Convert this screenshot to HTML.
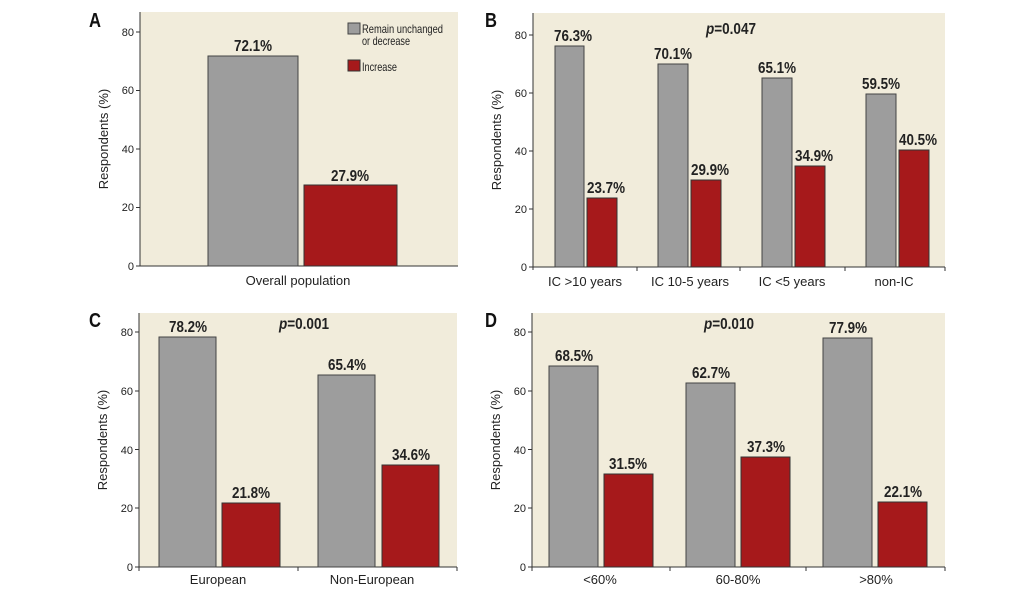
<!DOCTYPE html>
<html><head><meta charset="utf-8"><style>
body{margin:0;background:#fff}
svg{display:block}
.v{font-family:"Liberation Sans",sans-serif;font-weight:bold;font-size:16px;fill:#222;text-anchor:middle}
.t{font-family:"Liberation Sans",sans-serif;font-size:11px;fill:#222;text-anchor:end}
.c{font-family:"Liberation Sans",sans-serif;font-size:13px;fill:#222;text-anchor:middle}
.y{font-family:"Liberation Sans",sans-serif;font-size:13px;fill:#222;text-anchor:middle}
.L{font-family:"Liberation Sans",sans-serif;font-weight:bold;font-size:20px;fill:#111}
.g{fill:#9d9d9d;stroke:#444;stroke-width:1}
.r{fill:#a6191b;stroke:#333;stroke-width:1}
.lg{font-family:"Liberation Sans",sans-serif;font-size:12px;fill:#222}
</style></head><body>
<svg width="1033" height="591" viewBox="0 0 1033 591">
<!-- A -->
<rect x="140" y="12" width="318" height="254" fill="#f1ecdb"/>
<text class="L" x="89" y="27" textLength="12" lengthAdjust="spacingAndGlyphs">A</text>
<g stroke="#333"><line x1="140" y1="12" x2="140" y2="266"/><line x1="140" y1="266" x2="458" y2="266"/>
<line x1="136" y1="266" x2="140" y2="266"/><line x1="136" y1="207.5" x2="140" y2="207.5"/><line x1="136" y1="149" x2="140" y2="149"/><line x1="136" y1="90.5" x2="140" y2="90.5"/><line x1="136" y1="32" x2="140" y2="32"/></g>
<text class="t" x="134" y="270">0</text><text class="t" x="134" y="211">20</text><text class="t" x="134" y="153">40</text><text class="t" x="134" y="94">60</text><text class="t" x="134" y="36">80</text>
<text class="y" transform="translate(108,139) rotate(-90)">Respondents (%)</text>
<rect class="g" x="208" y="56" width="90" height="210"/><rect class="r" x="304" y="185" width="93" height="81"/>
<text class="v" x="253" y="51" textLength="38" lengthAdjust="spacingAndGlyphs">72.1%</text><text class="v" x="350" y="181" textLength="38" lengthAdjust="spacingAndGlyphs">27.9%</text>
<text class="c" x="298" y="285">Overall population</text>
<rect class="g" x="348" y="23" width="12" height="11"/><text class="lg" x="362" y="33" textLength="81" lengthAdjust="spacingAndGlyphs">Remain unchanged</text><text class="lg" x="362" y="45" textLength="48" lengthAdjust="spacingAndGlyphs">or decrease</text>
<rect class="r" x="348" y="60" width="12" height="11"/><text class="lg" x="362" y="71" textLength="35" lengthAdjust="spacingAndGlyphs">Increase</text>
<!-- B -->
<rect x="533" y="13" width="412" height="254" fill="#f1ecdb"/>
<text class="L" x="485" y="27" textLength="12" lengthAdjust="spacingAndGlyphs">B</text>
<g stroke="#333"><line x1="533" y1="13" x2="533" y2="270"/><line x1="533" y1="267" x2="945" y2="267"/>
<line x1="529" y1="267" x2="533" y2="267"/><line x1="529" y1="209" x2="533" y2="209"/><line x1="529" y1="151" x2="533" y2="151"/><line x1="529" y1="93" x2="533" y2="93"/><line x1="529" y1="35" x2="533" y2="35"/>
<line x1="637" y1="267" x2="637" y2="271"/><line x1="740" y1="267" x2="740" y2="271"/><line x1="845" y1="267" x2="845" y2="271"/><line x1="945" y1="267" x2="945" y2="271"/></g>
<text class="t" x="527" y="271">0</text><text class="t" x="527" y="213">20</text><text class="t" x="527" y="155">40</text><text class="t" x="527" y="97">60</text><text class="t" x="527" y="39">80</text>
<text class="y" transform="translate(501,140) rotate(-90)">Respondents (%)</text>
<rect class="g" x="555" y="46" width="29" height="221"/><rect class="r" x="587" y="198" width="30" height="69"/>
<rect class="g" x="658" y="64" width="30" height="203"/><rect class="r" x="691" y="180" width="30" height="87"/>
<rect class="g" x="762" y="78" width="30" height="189"/><rect class="r" x="795" y="166" width="30" height="101"/>
<rect class="g" x="866" y="94" width="30" height="173"/><rect class="r" x="899" y="150" width="30" height="117"/>
<text class="v" x="573" y="41" textLength="38" lengthAdjust="spacingAndGlyphs">76.3%</text><text class="v" x="606" y="193" textLength="38" lengthAdjust="spacingAndGlyphs">23.7%</text>
<text class="v" x="673" y="59" textLength="38" lengthAdjust="spacingAndGlyphs">70.1%</text><text class="v" x="710" y="175" textLength="38" lengthAdjust="spacingAndGlyphs">29.9%</text>
<text class="v" x="777" y="73" textLength="38" lengthAdjust="spacingAndGlyphs">65.1%</text><text class="v" x="814" y="161" textLength="38" lengthAdjust="spacingAndGlyphs">34.9%</text>
<text class="v" x="881" y="89" textLength="38" lengthAdjust="spacingAndGlyphs">59.5%</text><text class="v" x="918" y="145" textLength="38" lengthAdjust="spacingAndGlyphs">40.5%</text>
<text class="v" x="731" y="34" textLength="50" lengthAdjust="spacingAndGlyphs"><tspan font-style="italic">p</tspan>=0.047</text>
<text class="c" x="585" y="286">IC &gt;10 years</text><text class="c" x="690" y="286">IC 10-5 years</text><text class="c" x="792" y="286">IC &lt;5 years</text><text class="c" x="894" y="286">non-IC</text>
<!-- C -->
<rect x="139" y="313" width="318" height="254" fill="#f1ecdb"/>
<text class="L" x="89" y="327" textLength="12" lengthAdjust="spacingAndGlyphs">C</text>
<g stroke="#333"><line x1="139" y1="313" x2="139" y2="571"/><line x1="139" y1="567" x2="457" y2="567"/>
<line x1="135" y1="567" x2="139" y2="567"/><line x1="135" y1="508" x2="139" y2="508"/><line x1="135" y1="449.5" x2="139" y2="449.5"/><line x1="135" y1="391" x2="139" y2="391"/><line x1="135" y1="332" x2="139" y2="332"/>
<line x1="298" y1="567" x2="298" y2="571"/><line x1="457" y1="567" x2="457" y2="571"/></g>
<text class="t" x="133" y="571">0</text><text class="t" x="133" y="512">20</text><text class="t" x="133" y="454">40</text><text class="t" x="133" y="395">60</text><text class="t" x="133" y="336">80</text>
<text class="y" transform="translate(107,440) rotate(-90)">Respondents (%)</text>
<rect class="g" x="159" y="337" width="57" height="230"/><rect class="r" x="222" y="503" width="58" height="64"/>
<rect class="g" x="318" y="375" width="57" height="192"/><rect class="r" x="382" y="465" width="57" height="102"/>
<text class="v" x="188" y="332" textLength="38" lengthAdjust="spacingAndGlyphs">78.2%</text><text class="v" x="251" y="498" textLength="38" lengthAdjust="spacingAndGlyphs">21.8%</text>
<text class="v" x="347" y="370" textLength="38" lengthAdjust="spacingAndGlyphs">65.4%</text><text class="v" x="411" y="460" textLength="38" lengthAdjust="spacingAndGlyphs">34.6%</text>
<text class="v" x="304" y="329" textLength="50" lengthAdjust="spacingAndGlyphs"><tspan font-style="italic">p</tspan>=0.001</text>
<text class="c" x="218" y="584">European</text><text class="c" x="372" y="584">Non-European</text>
<!-- D -->
<rect x="532" y="313" width="413" height="254" fill="#f1ecdb"/>
<text class="L" x="485" y="327" textLength="12" lengthAdjust="spacingAndGlyphs">D</text>
<g stroke="#333"><line x1="532" y1="313" x2="532" y2="571"/><line x1="532" y1="567" x2="945" y2="567"/>
<line x1="528" y1="567" x2="532" y2="567"/><line x1="528" y1="508" x2="532" y2="508"/><line x1="528" y1="449.5" x2="532" y2="449.5"/><line x1="528" y1="391" x2="532" y2="391"/><line x1="528" y1="332" x2="532" y2="332"/>
<line x1="670" y1="567" x2="670" y2="571"/><line x1="806" y1="567" x2="806" y2="571"/><line x1="945" y1="567" x2="945" y2="571"/></g>
<text class="t" x="526" y="571">0</text><text class="t" x="526" y="512">20</text><text class="t" x="526" y="454">40</text><text class="t" x="526" y="395">60</text><text class="t" x="526" y="336">80</text>
<text class="y" transform="translate(500,440) rotate(-90)">Respondents (%)</text>
<rect class="g" x="549" y="366" width="49" height="201"/><rect class="r" x="604" y="474" width="49" height="93"/>
<rect class="g" x="686" y="383" width="49" height="184"/><rect class="r" x="741" y="457" width="49" height="110"/>
<rect class="g" x="823" y="338" width="49" height="229"/><rect class="r" x="878" y="502" width="49" height="65"/>
<text class="v" x="574" y="361" textLength="38" lengthAdjust="spacingAndGlyphs">68.5%</text><text class="v" x="628" y="469" textLength="38" lengthAdjust="spacingAndGlyphs">31.5%</text>
<text class="v" x="711" y="378" textLength="38" lengthAdjust="spacingAndGlyphs">62.7%</text><text class="v" x="766" y="452" textLength="38" lengthAdjust="spacingAndGlyphs">37.3%</text>
<text class="v" x="848" y="333" textLength="38" lengthAdjust="spacingAndGlyphs">77.9%</text><text class="v" x="903" y="497" textLength="38" lengthAdjust="spacingAndGlyphs">22.1%</text>
<text class="v" x="729" y="329" textLength="50" lengthAdjust="spacingAndGlyphs"><tspan font-style="italic">p</tspan>=0.010</text>
<text class="c" x="600" y="584">&lt;60%</text><text class="c" x="738" y="584">60-80%</text><text class="c" x="876" y="584">&gt;80%</text>
</svg>
</body></html>
